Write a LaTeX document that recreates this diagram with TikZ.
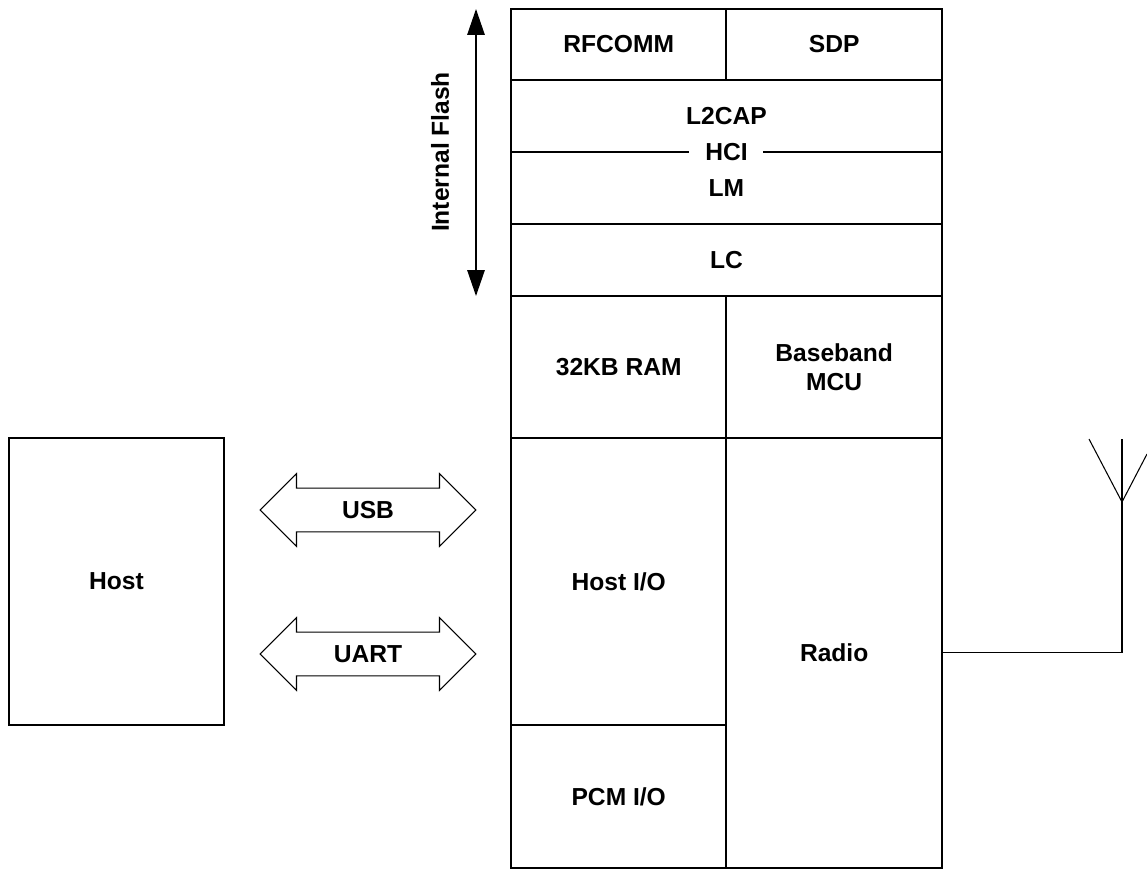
\documentclass[tikz,border=0pt]{standalone}
\usepackage{fontspec}
\setmainfont{Liberation Sans}
\usetikzlibrary{positioning,shapes.arrows,arrows.meta}

\tikzset{
  cell/.style={draw, rectangle, line width=1.1pt, inner sep=0pt, outer sep=0pt, align=center, font=\fontsize{14}{16.5}\selectfont\bfseries},
  halfcell/.style={cell, minimum width=4.31cm},
  fullcell/.style={cell, minimum width=8.62cm},
  busarrow/.style={draw, double arrow, line width=0.6pt, minimum height=4.32cm, double arrow head extend=0.29cm, text height=10pt, text depth=0pt, inner xsep=0pt, inner ysep=7.2pt, font=\fontsize{14}{16.5}\selectfont\bfseries},
  flasharrow/.style={{Triangle[length=0.52cm, width=0.35cm]}-{Triangle[length=0.52cm, width=0.35cm]}, line width=0.8pt}
}

\begin{document}
\begin{tikzpicture}[x=0.02cm, y=-0.02cm]
    \useasboundingbox (0,0) rectangle (1147,869);

    % protocol stack
    \node[halfcell, minimum height=1.42cm, anchor=north west] (rfcomm) at (511,9) {RFCOMM};
    \node[halfcell, minimum height=1.42cm, right=0pt of rfcomm] (sdp) {SDP};
    \node[fullcell, minimum height=1.44cm, anchor=north west] (l2cap) at (rfcomm.south west) {L2CAP};
    \node[fullcell, minimum height=1.44cm, below=0pt of l2cap] (lm) {LM};
    \node[fullcell, minimum height=1.44cm, below=0pt of lm] (lc) {LC};
    \node[halfcell, minimum height=2.84cm, anchor=north west] (ram) at (lc.south west) {32KB RAM};
    \node[halfcell, minimum height=2.84cm, right=0pt of ram] (mcu) {Baseband\\MCU};
    \node[halfcell, minimum height=5.74cm, below=0pt of ram] (hostio) {Host I/O};
    \node[halfcell, minimum height=2.86cm, below=0pt of hostio] (pcm) {PCM I/O};
    \node[halfcell, minimum height=8.6cm, below=0pt of mcu] (radio) {Radio};
    \node[cell, draw=none, fill=white, inner xsep=9pt, inner ysep=1pt] (hci) at (l2cap.south) {HCI};

    % internal flash
    \coordinate (flashtop) at (476,9);
    \coordinate (flashbot) at (476,296);
    \draw[flasharrow] (flashtop) -- (flashbot);
    \node[rotate=90, font=\fontsize{14}{16.5}\selectfont\bfseries] (flash) at (440,152) {Internal Flash};

    % host and buses
    \node[cell, minimum width=4.3cm, minimum height=5.74cm, anchor=north west] (host) at (9,438) {Host};
    \node[busarrow] (usb) at (368,510) {USB};
    \node[busarrow] (uart) at (368,654) {UART};

    % antenna
    \coordinate (antapex) at (1122,502);
    \coordinate (antmast) at (1122,439);
    \coordinate (antfoot) at (radio.east -| antmast);
    \coordinate (antleft) at (1089,439);
    \coordinate (antright) at (1147,454);
    \draw[line width=0.6pt] (radio.east) -- (antfoot) -- (antmast);
    \draw[line width=0.6pt] (antleft) -- (antapex) -- (antright);
\end{tikzpicture}
\end{document}
